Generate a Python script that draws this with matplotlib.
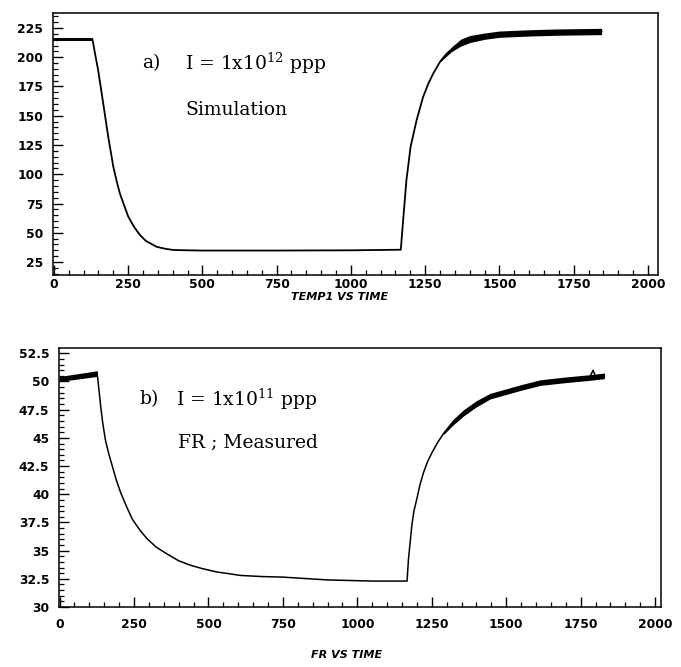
import matplotlib
matplotlib.use("Agg")
import matplotlib.pyplot as plt
from matplotlib.ticker import MultipleLocator

# ---- data ----
t_a = [0, 130, 140, 149, 166, 183, 200, 211, 222, 250, 270, 290, 310, 346, 375, 402, 450,
       500, 750, 1000, 1168, 1176, 1187, 1201, 1221, 1243, 1260, 1277, 1300, 1322, 1350,
       1390, 1420, 1468, 1500, 1600, 1700, 1844]
v_a = [215.2, 215.2, 201, 189, 160.6, 132, 106.5, 94.5, 83.7, 64, 55, 48, 43, 38, 36.3,
       35.3, 35, 34.8, 34.8, 35, 35.5, 61, 95, 123.5, 146, 166, 177, 186, 196, 203, 209,
       214.7, 217, 218.7, 219.7, 220.8, 221.5, 222]
# noisy envelope of the simulated plateau
t_a_band = [1300, 1340, 1370, 1400, 1450, 1500, 1600, 1700, 1844]
lo_a_band = [196, 205, 209.5, 212.5, 215.3, 217, 218.1, 218.8, 219.3]
hi_a_band = [198, 209, 215.5, 218.5, 220.7, 222.4, 223.5, 224.2, 224.7]
t_a_start = [0, 130]
lo_a_start = [213.6, 213.6]
hi_a_start = [216.8, 216.8]

t_b = [0, 60, 126, 132, 138, 145, 154, 165, 177, 190, 205, 225, 244, 270, 294, 325, 361,
       400, 440, 480, 529, 570, 607, 680, 750, 900, 1050, 1167, 1172, 1183, 1190, 1200,
       1210, 1222, 1236, 1251, 1270, 1290, 1320, 1357, 1400, 1446, 1500, 1547, 1614,
       1700, 1780, 1792, 1800, 1830]
v_b = [50.2, 50.4, 50.8, 49.3, 47.8, 46.3, 44.8, 43.6, 42.5, 41.3, 40.15, 38.9, 37.8,
       36.8, 36.05, 35.3, 34.7, 34.1, 33.7, 33.4, 33.1, 32.95, 32.8, 32.7, 32.65, 32.4,
       32.3, 32.3, 34.3, 37.2, 38.5, 39.6, 40.8, 41.9, 42.9, 43.7, 44.6, 45.4, 46.3,
       47.2, 48.0, 48.7, 49.1, 49.45, 49.9, 50.15, 50.35, 51.0, 50.45, 50.5]
t_b_band = [1290, 1320, 1357, 1400, 1446, 1500, 1547, 1614, 1700, 1780, 1830]
lo_b_band = [45.3, 46.1, 46.95, 47.75, 48.45, 48.85, 49.2, 49.65, 49.9, 50.1, 50.25]
hi_b_band = [45.6, 46.6, 47.5, 48.3, 48.95, 49.35, 49.7, 50.15, 50.4, 50.6, 50.75]
t_b_start = [0, 126]
lo_b_start = [50.0, 50.45]
hi_b_start = [50.45, 50.95]

xticks = [0, 250, 500, 750, 1000, 1250, 1500, 1750, 2000]
yticks_a = [25, 50, 75, 100, 125, 150, 175, 200, 225]
yticks_b = [30, 32.5, 35, 37.5, 40, 42.5, 45, 47.5, 50, 52.5]
yticklabels_b = ["30", "32.5", "35", "37.5", "40", "42.5", "45", "47.5", "50", "52.5"]

plt.rcParams['mathtext.fontset'] = 'dejavuserif'

W, H = 681, 667
fig = plt.figure(figsize=(W / 100, H / 100), dpi=100)

def rect(l, t, r, b):
    return [l / W, 1 - b / H, (r - l) / W, (b - t) / H]

ax1 = fig.add_axes(rect(53, 13, 658, 275))
ax2 = fig.add_axes(rect(59, 348, 661, 607))

tickfont = dict(family="DejaVu Sans", weight="bold", size=8.8)

def style(ax, xpad):
    for s in ax.spines.values():
        s.set_linewidth(1.1)
    ax.tick_params(axis='both', which='both', direction='in', top=False, right=False)
    ax.tick_params(axis='both', which='major', length=7, width=1.0)
    ax.tick_params(axis='both', which='minor', length=3.5, width=0.9)
    ax.tick_params(axis='x', which='major', pad=xpad)
    ax.tick_params(axis='y', which='major', pad=7)
    ax.xaxis.set_minor_locator(MultipleLocator(50))
    ax.set_xticks(xticks)
    ax.set_xticklabels([str(v) for v in xticks], **tickfont)

# top panel
ax1.plot(t_a, v_a, color='black', lw=1.3)
ax1.fill_between(t_a_band, lo_a_band, hi_a_band, color='black', lw=0)
ax1.fill_between(t_a_start, lo_a_start, hi_a_start, color='black', lw=0)
ax1.set_xlim(-3, 2034)
ax1.set_ylim(13.9, 237.8)
style(ax1, 2.5)
ax1.set_yticks(yticks_a)
ax1.set_yticklabels([str(v) for v in yticks_a], **tickfont)
ax1.yaxis.set_minor_locator(MultipleLocator(5))

# bottom panel
ax2.plot(t_b, v_b, color='black', lw=1.1)
ax2.fill_between(t_b_band, lo_b_band, hi_b_band, color='black', lw=0)
ax2.fill_between(t_b_start, lo_b_start, hi_b_start, color='black', lw=0)
ax2.set_xlim(-2, 2020)
ax2.set_ylim(30.15, 52.97)
style(ax2, 8)
ax2.set_yticks(yticks_b)
ax2.set_yticklabels(yticklabels_b, **tickfont)
ax2.yaxis.set_minor_locator(MultipleLocator(0.5))

# annotations
serif = dict(family="DejaVu Serif", size=13.5, va='center', ha='left')
def ftext(x, y, s, **kw):
    fig.text(x / W, 1 - y / H, s, **kw)

ftext(142, 63, "a)", **serif)
ftext(185, 63, r"I = 1x10$^{12}$ ppp", **serif)
ftext(185, 110, "Simulation", **serif)
ftext(139, 399, "b)", **serif)
ftext(176, 399, r"I = 1x10$^{11}$ ppp", **serif)
ftext(178, 443, "FR ; Measured", **serif)

titlefont = dict(family="DejaVu Sans", weight="bold", style="italic", size=8,
                 ha='center', va='center')
ftext(340, 297, "TEMP1 VS TIME", **titlefont)
ftext(347, 655, "FR VS TIME", **titlefont)

fig.savefig("out.png", dpi=100)
